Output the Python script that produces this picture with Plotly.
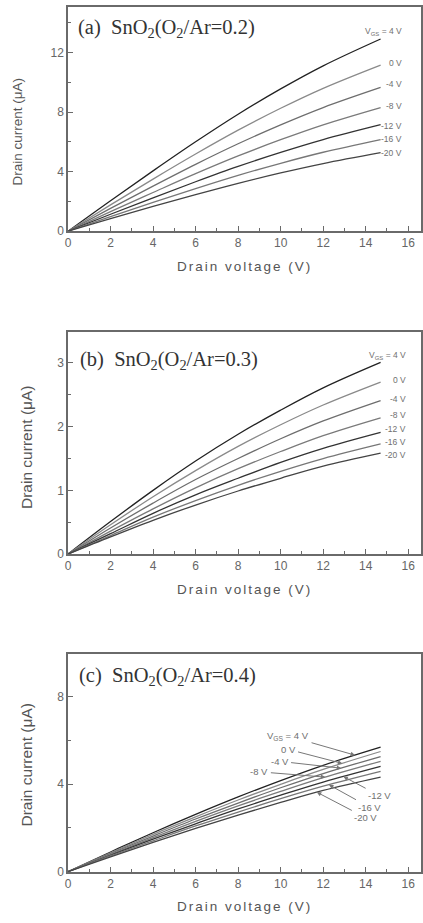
import numpy as np
import plotly.graph_objects as go

# ---------------- data ----------------
VD = [0, 2, 4, 6, 8, 10, 12, 14.7]          # drain voltage (V)
VGS_LABELS = ["V<sub>GS</sub> = 4 V", "0 V", "-4 V", "-8 V", "-12 V", "-16 V", "-20 V"]

# (a) SnO2 (O2/Ar = 0.2), drain current (uA), one row per VGS (+4 ... -20 V)
ID_A = [
    [0, 2.05, 4.05, 6.00, 7.85, 9.55, 11.10, 12.90],
    [0, 1.77, 3.50, 5.18, 6.78, 8.25, 9.59, 11.15],
    [0, 1.53, 3.03, 4.49, 5.87, 7.14, 8.30, 9.65],
    [0, 1.32, 2.60, 3.86, 5.05, 6.14, 7.14, 8.30],
    [0, 1.14, 2.24, 3.32, 4.35, 5.29, 6.15, 7.15],
    [0, 0.98, 1.93, 2.86, 3.75, 4.56, 5.30, 6.15],
    [0, 0.84, 1.66, 2.45, 3.21, 3.91, 4.54, 5.27],
]
# (b) SnO2 (O2/Ar = 0.3)
ID_B = [
    [0, 0.51, 1.00, 1.46, 1.88, 2.26, 2.61, 3.01],
    [0, 0.46, 0.90, 1.31, 1.69, 2.03, 2.34, 2.70],
    [0, 0.41, 0.80, 1.17, 1.50, 1.81, 2.09, 2.41],
    [0, 0.36, 0.71, 1.04, 1.34, 1.61, 1.86, 2.14],
    [0, 0.32, 0.64, 0.93, 1.19, 1.44, 1.66, 1.91],
    [0, 0.29, 0.58, 0.84, 1.08, 1.30, 1.50, 1.73],
    [0, 0.27, 0.53, 0.77, 0.99, 1.19, 1.38, 1.585],
]
# (c) SnO2 (O2/Ar = 0.4)
ID_C = [
    [0, 0.90, 1.78, 2.62, 3.42, 4.17, 4.87, 5.70],
    [0, 0.86, 1.71, 2.51, 3.28, 4.00, 4.68, 5.50],
    [0, 0.83, 1.63, 2.41, 3.14, 3.84, 4.49, 5.27],
    [0, 0.79, 1.56, 2.30, 3.01, 3.67, 4.30, 5.05],
    [0, 0.75, 1.49, 2.19, 2.87, 3.50, 4.10, 4.82],
    [0, 0.72, 1.41, 2.09, 2.73, 3.34, 3.91, 4.59],
    [0, 0.68, 1.34, 1.98, 2.59, 3.17, 3.72, 4.33],
]
# panel (a)/(b) label heights (y, data units)
LABEL_Y_A = [13.4, 11.3, 9.87, 8.42, 7.09, 6.2, 5.27]
LABEL_Y_B = [3.12, 2.74, 2.43, 2.18, 1.96, 1.76, 1.56]
# panel (c) callouts: label centre (x, y) and x of the arrow head on the curve
LABEL_XY_C = [(10.35, 6.21), (10.35, 5.6), (9.95, 5.05), (9.0, 4.57),
              (14.65, 3.48), (14.18, 2.95), (14.0, 2.47)]
ARROW_X_C = [13.5, 12.9, 12.85, 12.1, 12.95, 12.27, 11.7]

PANEL_TITLES = ["(a)  SnO<sub>2</sub>(O<sub>2</sub>/Ar=0.2)",
                "(b)  SnO<sub>2</sub>(O<sub>2</sub>/Ar=0.3)",
                "(c)  SnO<sub>2</sub>(O<sub>2</sub>/Ar=0.4)"]

# ---------------- styling ----------------
LINE_COLORS = ["#222222", "#8a8a8a", "#6e6e6e", "#7a7a7a", "#333333", "#777777", "#444444"]
TEXT_GRAY = "#555555"
AX_GRAY = "#6a6a6a"
SANS = "Liberation Sans, Arial, sans-serif"
SERIF = "Liberation Serif, Times New Roman, serif"

W, H = 423, 923
ML, MR = 68, 1
# pixel extents of the three plot boxes (top, bottom)
BOXES = [(7, 233), (334.3, 558.3), (659.3, 878.3)]
YRANGES = [[0, 15.05], [0, 3.49], [0, 9.95]]
YTICKS = [[0, 4, 8, 12], [0, 1, 2, 3], [0, 4, 8]]
YMINOR = [2, 0.5, 2]
XRANGE = [0, 16.6]

fig = go.Figure()
datasets = [ID_A, ID_B, ID_C]

for p, data in enumerate(datasets):
    xa = "x" if p == 0 else f"x{p+1}"
    ya = "y" if p == 0 else f"y{p+1}"
    for i, row in enumerate(data):
        fig.add_trace(go.Scatter(
            x=VD, y=row, mode="lines", xaxis=xa, yaxis=ya,
            line=dict(color=LINE_COLORS[i], width=1.3, shape="spline", smoothing=1.0),
            showlegend=False, hoverinfo="skip"))

layout = dict(width=W, height=H, margin=dict(l=ML, r=MR, t=0, b=0),
              paper_bgcolor="white", plot_bgcolor="white", showlegend=False)

annotations = []
for p in range(3):
    top, bot = BOXES[p]
    dom = [1 - bot / H, 1 - top / H]
    xk = "xaxis" if p == 0 else f"xaxis{p+1}"
    yk = "yaxis" if p == 0 else f"yaxis{p+1}"
    xa = "x" if p == 0 else f"x{p+1}"
    ya = "y" if p == 0 else f"y{p+1}"
    layout[xk] = dict(
        domain=[0, 1], range=XRANGE, anchor=ya,
        tickvals=list(range(0, 17, 2)), ticks="inside", ticklen=5, tickwidth=1,
        tickcolor=AX_GRAY, minor=dict(dtick=1, tick0=0, ticks="inside", ticklen=3, tickcolor=AX_GRAY),
        showline=True, linecolor=AX_GRAY, linewidth=1.5, mirror=True,
        showgrid=False, zeroline=False,
        tickfont=dict(family=SANS, size=12, color="#666666"))
    layout[yk] = dict(
        domain=dom, range=YRANGES[p], anchor=xa,
        tickvals=YTICKS[p], ticks="inside", ticklen=5, tickwidth=1,
        tickcolor=AX_GRAY, minor=dict(dtick=YMINOR[p], tick0=0, ticks="inside", ticklen=3, tickcolor=AX_GRAY),
        showline=True, linecolor=AX_GRAY, linewidth=1.5, mirror=True,
        showgrid=False, zeroline=False,
        tickfont=dict(family=SANS, size=12, color="#666666"))

    # axis titles
    annotations.append(dict(
        text='<span style="letter-spacing:2px">Drain voltage (V)</span>',
        xref=f"{xa} domain", yref=f"{ya} domain", x=0.5, y=0, yshift=-35,
        xanchor="center", yanchor="middle", showarrow=False,
        font=dict(family=SANS, size=13.5, color=TEXT_GRAY)))
    ycen_px = [133, 450.7, 770.7][p]
    ytitle_x = [17.5, 26.7, 26.7][p]
    ytitle_size = [13.5, 15.5, 15.5][p]
    annotations.append(dict(
        text="Drain current (\u03bcA)", textangle=-90,
        xref="paper", yref="paper", x=0, xshift=-(ML - ytitle_x),
        y=1 - ycen_px / H, xanchor="center", yanchor="middle", showarrow=False,
        font=dict(family=SANS, size=ytitle_size, color=TEXT_GRAY)))
    # panel title
    tcen = [29, 363, 681.7][p]
    annotations.append(dict(
        text=PANEL_TITLES[p], xref="paper", yref="paper",
        x=(76 - ML + [0, 2, 1][p]) / (W - ML - MR), y=1 - tcen / H,
        xanchor="left", yanchor="middle", showarrow=False,
        font=dict(family=SERIF, size=20.5, color="#333333")))

# curve labels (a), (b)
for p, ys, xr in [(0, LABEL_Y_A, 15.82), (1, LABEL_Y_B, 16.0)]:
    xa = "x" if p == 0 else f"x{p+1}"
    ya = "y" if p == 0 else f"y{p+1}"
    for lab, yv in zip(VGS_LABELS, ys):
        annotations.append(dict(
            text=lab, xref=xa, yref=ya, x=xr, y=yv, xanchor="right", yanchor="middle",
            showarrow=False, font=dict(family=SANS, size=8.5, color="#707070")))

# callouts (c)
for i, lab in enumerate(VGS_LABELS):
    hx = ARROW_X_C[i]
    hy = float(np.interp(hx, VD, ID_C[i]))
    tx, ty = LABEL_XY_C[i]
    annotations.append(dict(
        text=lab, xref="x3", yref="y3", x=hx, y=hy, axref="x3", ayref="y3", ax=tx, ay=ty,
        showarrow=True, arrowhead=2, arrowsize=0.9, arrowwidth=1, arrowcolor="#777777",
        standoff=0, startstandoff=1,
        font=dict(family=SANS, size=9.5, color="#707070")))

layout["annotations"] = annotations
fig.update_layout(**layout)
fig.write_html("out.html")
